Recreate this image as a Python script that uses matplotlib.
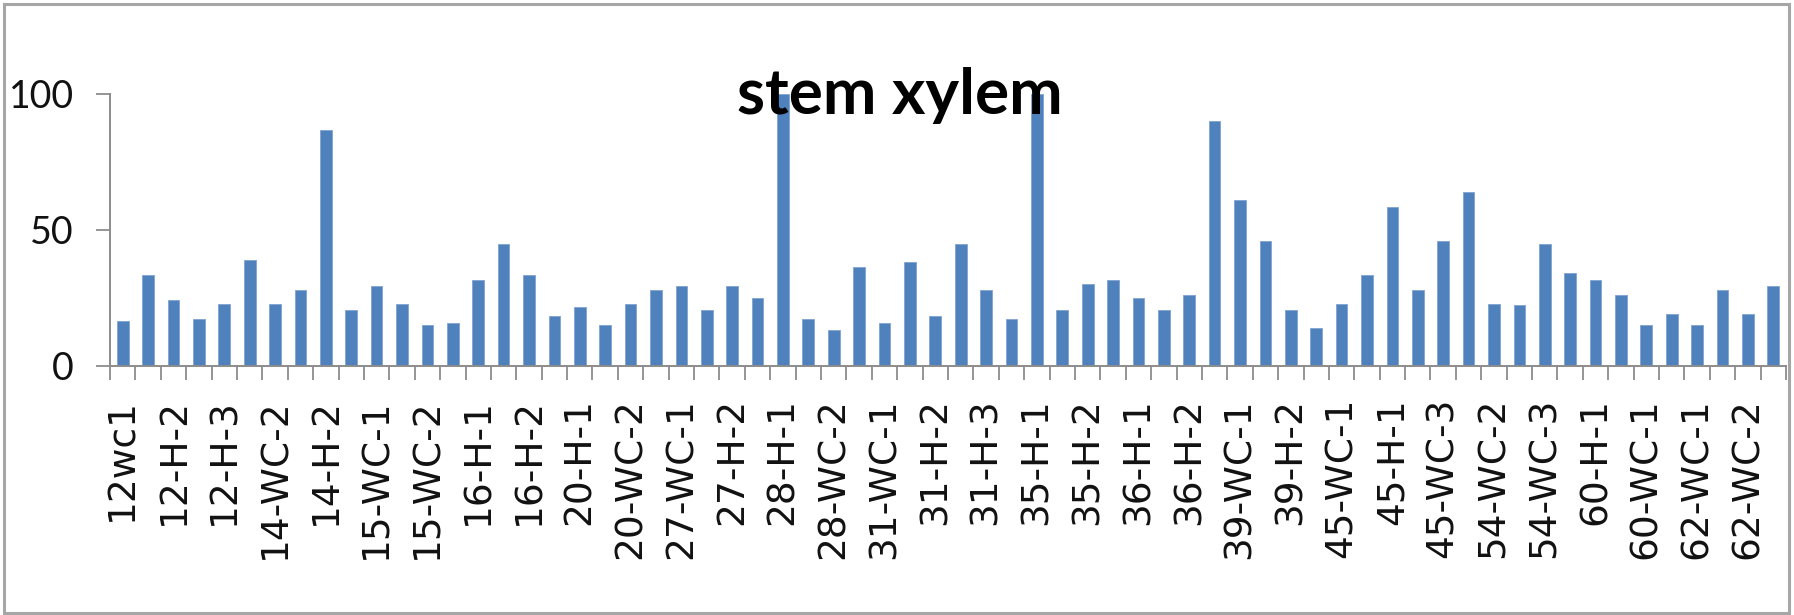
import matplotlib
matplotlib.use("Agg")
import matplotlib.pyplot as plt
from matplotlib.patches import Rectangle
from matplotlib.ticker import FixedLocator
import numpy as np

# Stem xylem measurements, one bar per sample (every other sample labelled)
tick_labels = [
    "12wc1", "12-H-2", "12-H-3", "14-WC-2", "14-H-2", "15-WC-1", "15-WC-2",
    "16-H-1", "16-H-2", "20-H-1", "20-WC-2", "27-WC-1", "27-H-2", "28-H-1",
    "28-WC-2", "31-WC-1", "31-H-2", "31-H-3", "35-H-1", "35-H-2", "36-H-1",
    "36-H-2", "39-WC-1", "39-H-2", "45-WC-1", "45-H-1", "45-WC-3", "54-WC-2",
    "54-WC-3", "60-H-1", "60-WC-1", "62-WC-1", "62-WC-2",
]

values = [
    16.5, 33.3, 24.4, 17.4, 22.9, 39.1, 22.9, 27.8, 86.6, 20.7,
    29.3, 22.9, 14.9, 15.8, 31.7, 44.8, 33.3, 18.2, 21.7, 14.9,
    22.9, 27.8, 29.3, 20.7, 29.3, 25.1, 100.0, 17.4, 13.3, 36.4,
    15.8, 38.2, 18.2, 44.8, 27.8, 17.4, 100.0, 20.7, 30.0, 31.7,
    25.1, 20.7, 26.0, 89.9, 60.9, 45.9, 20.7, 13.9, 22.9, 33.3,
    58.4, 27.8, 45.9, 64.0, 22.9, 22.3, 44.8, 34.2, 31.7, 26.0,
    14.9, 19.0, 14.9, 27.8, 19.0, 29.3,
]

title = "stem xylem"
bar_color = "#4F81BD"
axis_gray = "#8C8C8C"

W, H, DPI = 1794, 615, 100
fig = plt.figure(figsize=(W / DPI, H / DPI), dpi=DPI)
fig.patch.set_facecolor("white")

ax = fig.add_axes([110 / W, (H - 366) / H, (1786 - 110) / W, 272 / H])

x = np.arange(len(values))
ax.bar(x, values, width=0.46, color=bar_color, edgecolor="#7FA3D1", linewidth=0.6)

ax.set_xlim(-0.5, len(values) - 0.5)
ax.set_ylim(0, 100)

for side in ("top", "right"):
    ax.spines[side].set_visible(False)
for side in ("left", "bottom"):
    ax.spines[side].set_color(axis_gray)
    ax.spines[side].set_linewidth(1.4)

# y axis
ax.set_yticks([0, 50, 100])
ax.set_yticklabels(["0", "50", "100"], fontfamily="Lato", fontsize=27)
ax.tick_params(axis="y", direction="out", length=10, width=1.3,
               color=axis_gray, pad=16, labelcolor="#111111")

# x axis: labels on every other category, tick marks between categories
ax.xaxis.set_major_locator(FixedLocator(x[::2]))
ax.set_xticklabels(tick_labels, rotation=90, fontfamily="DejaVu Sans",
                   fontsize=27, va="top", ha="center")
ax.tick_params(axis="x", which="major", length=0, pad=23, labelcolor="#111111")
ax.xaxis.set_minor_locator(FixedLocator(np.arange(-0.5, len(values), 1.0)))
ax.tick_params(axis="x", which="minor", direction="out", length=10,
               width=1.3, color=axis_gray)

fig.text(900 / W, 1 - 95 / H, title, ha="center", va="center",
         fontfamily="Lato", fontweight="bold", fontsize=46, color="black",
         zorder=10)

# outer chart frame
fig.patches.append(Rectangle((4 / W, 2 / H), (1789 - 4) / W, (H - 6) / H,
                             transform=fig.transFigure, fill=False,
                             edgecolor="#A6A6A6", linewidth=2.2))

fig.savefig("out.png", dpi=DPI, facecolor="white")
